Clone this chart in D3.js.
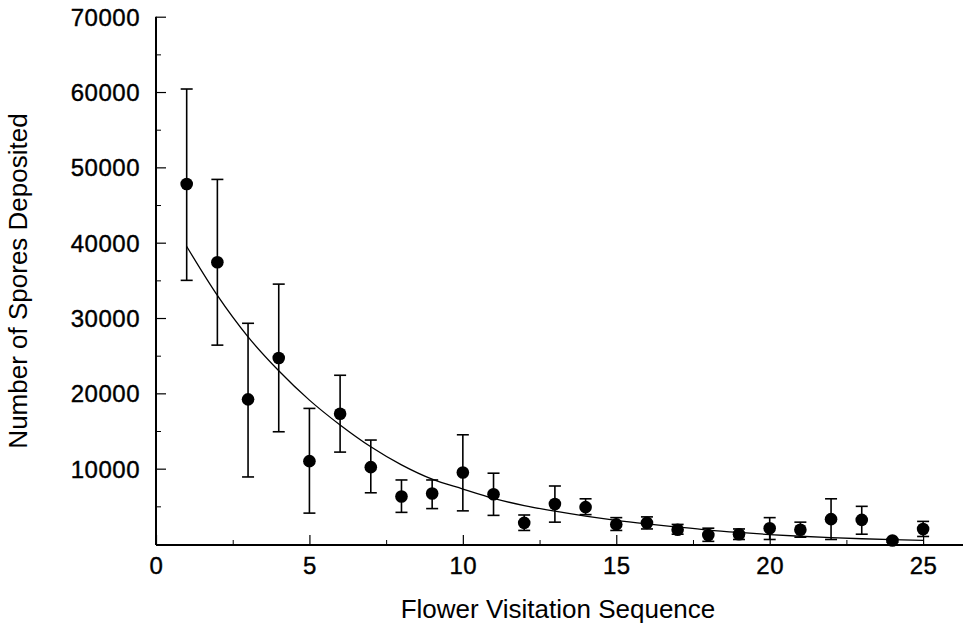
<!DOCTYPE html>
<html>
<head>
<meta charset="utf-8">
<script src="https://cdn.jsdelivr.net/npm/d3@7"></script>
<style>
  body { margin: 0; background: #fff; }
  svg { display: block; font-family: "Liberation Sans", Arial, sans-serif; }
</style>
</head>
<body>
<script>
// flower visitation sequence (x) and spores deposited
const visits = [1, 2, 3, 4, 5, 6, 7, 8, 9, 10, 11, 12, 13, 14, 15, 16, 17, 18, 19, 20, 21, 22, 23, 24, 25];
const meanSpores = [47800, 37400, 19200, 24700, 11000, 17300, 10200, 6300, 6700, 9500, 6600, 2800, 5300, 4900, 2600, 2800, 1900, 1200, 1300, 2100, 1900, 3300, 3200, 470, 2000];
const upperErr = [60400, 48400, 29300, 34500, 18000, 22400, 13800, 8500, 8500, 14500, 9400, 3850, 7700, 6000, 3500, 3600, 2600, 2100, 2000, 3500, 2900, 6000, 5000, 700, 3000];
const lowerErr = [35000, 26400, 8900, 14900, 4100, 12200, 6800, 4200, 4700, 4400, 3800, 1800, 2900, 3900, 1800, 2000, 1300, 350, 600, 600, 900, 600, 1300, 250, 1000];

// fitted curve at each visit
const fitSpores = [39500, 33000, 27500, 23000, 19100, 15800, 12900, 10500, 8600, 7300, 6050, 5100, 4350, 3700, 3150, 2680, 2250, 1850, 1530, 1250, 1030, 850, 700, 580, 480];

const xMajor = [0, 5, 10, 15, 20, 25];
const xMinor = [2.5, 7.5, 12.5, 17.5, 22.5];
const yMajor = [10000, 20000, 30000, 40000, 50000, 60000, 70000];
const yMinor = [5000, 15000, 25000, 35000, 45000, 55000, 65000];

const width = 964, height = 625;

const svg = d3.select("body").append("svg")
  .attr("width", width)
  .attr("height", height);

const x = d3.scaleLinear().domain([0, 26.3]).range([156, 963]);
const y = d3.scaleLinear().domain([0, 70000]).range([544, 16.7]);

const axisY0 = 545;

// axes lines
svg.append("line")
  .attr("x1", x(0)).attr("x2", 963)
  .attr("y1", axisY0).attr("y2", axisY0)
  .attr("stroke", "#000").attr("stroke-width", 2);
svg.append("line")
  .attr("x1", x(0)).attr("x2", x(0))
  .attr("y1", axisY0).attr("y2", y(70000))
  .attr("stroke", "#000").attr("stroke-width", 2);

// x ticks (inward, pointing up)
const xAxis = svg.append("g").attr("transform", `translate(0,${axisY0})`)
  .call(d3.axisBottom(x).tickValues(xMajor).tickSize(-10).tickFormat(d3.format("d")));
xAxis.select(".domain").remove();
xAxis.selectAll(".tick line").attr("stroke-width", 1.2);
xAxis.selectAll(".tick text")
  .attr("fill", "#000")
  .attr("stroke", "#000")
  .attr("stroke-width", 0.4)
  .style("font-size", "24px")
  .style("letter-spacing", "0.5px")
  .attr("dy", "0.75em")
  .attr("y", 11);

const xMin = svg.append("g").attr("transform", `translate(0,${axisY0})`)
  .call(d3.axisBottom(x).tickValues(xMinor).tickSize(-5).tickFormat(""));
xMin.select(".domain").remove();
xMin.selectAll(".tick line").attr("stroke-width", 1);

// y ticks (inward, pointing right)
const yAxis = svg.append("g").attr("transform", `translate(${x(0)},0)`)
  .call(d3.axisLeft(y).tickValues(yMajor).tickSize(-10).tickFormat(d3.format("d")));
yAxis.select(".domain").remove();
yAxis.selectAll(".tick line").attr("stroke-width", 1.2);
yAxis.selectAll(".tick text")
  .attr("fill", "#000")
  .attr("stroke", "#000")
  .attr("stroke-width", 0.4)
  .style("font-size", "24px")
  .style("letter-spacing", "0.5px")
  .attr("x", -16)
  .attr("dy", "0.36em");

const yMin = svg.append("g").attr("transform", `translate(${x(0)},0)`)
  .call(d3.axisLeft(y).tickValues(yMinor).tickSize(-5).tickFormat(""));
yMin.select(".domain").remove();
yMin.selectAll(".tick line").attr("stroke-width", 1);

// fitted curve
const line = d3.line()
  .x((d, i) => x(visits[i]))
  .y(d => y(d))
  .curve(d3.curveMonotoneX);

svg.append("path")
  .datum(fitSpores)
  .attr("fill", "none")
  .attr("stroke", "#000")
  .attr("stroke-width", 1.3)
  .attr("d", line);

// error bars
const capW = 6;
const err = svg.append("g").attr("stroke", "#000").attr("stroke-width", 1.6);
visits.forEach((v, i) => {
  err.append("line")
    .attr("x1", x(v)).attr("x2", x(v))
    .attr("y1", y(upperErr[i])).attr("y2", y(lowerErr[i]));
  err.append("line")
    .attr("x1", x(v) - capW).attr("x2", x(v) + capW)
    .attr("y1", y(upperErr[i])).attr("y2", y(upperErr[i]));
  err.append("line")
    .attr("x1", x(v) - capW).attr("x2", x(v) + capW)
    .attr("y1", y(lowerErr[i])).attr("y2", y(lowerErr[i]));
});

// points
svg.append("g").selectAll("circle")
  .data(meanSpores)
  .join("circle")
  .attr("cx", (d, i) => x(visits[i]))
  .attr("cy", d => y(d))
  .attr("r", 6.3)
  .attr("fill", "#000");

// axis titles
svg.append("text")
  .attr("x", 558)
  .attr("y", 618)
  .attr("text-anchor", "middle")
  .style("font-size", "26px")
  .attr("fill", "#000")
  .text("Flower Visitation Sequence");

svg.append("text")
  .attr("transform", "translate(27,281) rotate(-90)")
  .attr("text-anchor", "middle")
  .style("font-size", "26px")
  .attr("fill", "#000")
  .text("Number of Spores Deposited");
</script>
</body>
</html>
